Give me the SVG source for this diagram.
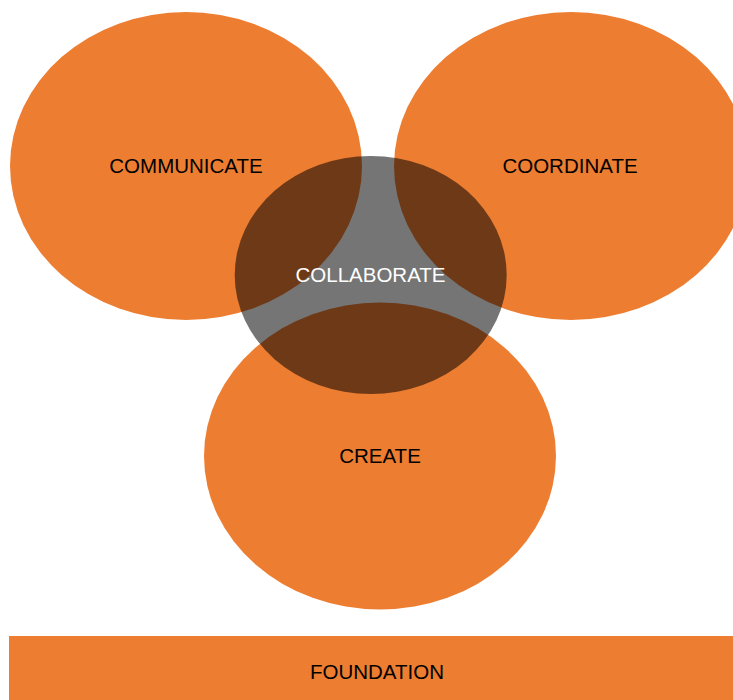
<svg xmlns="http://www.w3.org/2000/svg" width="733" height="700" viewBox="0 0 733 700">
<style>
.o{fill:#ED7D31}
.t{font-family:"Liberation Sans",Arial,sans-serif;font-size:20.5px;text-anchor:middle;fill:#000}
.w{fill:#fff}
</style>
<rect width="733" height="700" fill="#fff"/>
<g id="communicate"><ellipse class="o" cx="186" cy="166" rx="176" ry="154"/><text class="t" x="186" y="173">COMMUNICATE</text></g>
<g id="coordinate"><ellipse class="o" cx="571" cy="166" rx="177" ry="154"/><text class="t" x="570" y="173">COORDINATE</text></g>
<g id="create"><ellipse class="o" cx="380" cy="456" rx="176" ry="153.5"/><text class="t" x="380" y="463">CREATE</text></g>
<g id="collaborate"><ellipse cx="370.7" cy="275" rx="136" ry="119" fill="#000" fill-opacity="0.54"/><text class="t w" x="370.5" y="282">COLLABORATE</text></g>
<g id="foundation"><rect class="o" x="9" y="636" width="724" height="64"/><text class="t" x="377" y="679">FOUNDATION</text></g>
<g id="connectors"/>
</svg>
